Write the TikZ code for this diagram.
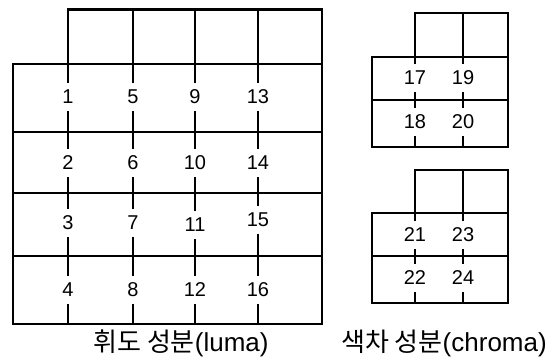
\documentclass[tikz,border=0pt]{standalone}
\usepackage{fontspec}
\setmainfont{Liberation Sans}
\newfontfamily\kr{Noto Sans CJK KR}
\begin{document}
\begin{tikzpicture}[x=1pt,y=-1pt,
  lgrid/.style={line width=2.1pt},
  cgrid/.style={line width=1.6pt},
  num/.style={minimum height=28pt, minimum width=10pt, inner sep=0pt, font=\fontsize{20}{20}\selectfont},
  caption/.style={inner sep=0pt, font=\fontsize{26}{26}\selectfont}]
\useasboundingbox (0,0) rectangle (555,358);
% ---------- luma ----------
\draw[lgrid] (68,64) |- (322,9.5) |- (13,324) |- cycle;
\foreach \y in {132,193,256} \draw[lgrid] (13,\y) -- (322,\y);
\draw[lgrid] (68,64) -- (322,64);
\foreach \c/\x in {a/68,b/133,c/195,d/258} {
  \coordinate (t\c) at (\x,9.5);
  \coordinate (b\c) at (\x,324);
}
\node[num] (l1) at (68,97) {1};
\node[num] (l2) at (68,163) {2};
\node[num] (l3) at (68,223) {3};
\node[num] (l4) at (68,290) {4};
\node[num] (l5) at (133,97) {5};
\node[num] (l6) at (133,163) {6};
\node[num] (l7) at (133,223) {7};
\node[num] (l8) at (133,290) {8};
\node[num] (l9) at (195,97) {9};
\node[num] (l10) at (195,163) {10};
\node[num] (l11) at (195,225) {11};
\node[num] (l12) at (195,290) {12};
\node[num] (l13) at (258,97) {13};
\node[num] (l14) at (258,163) {14};
\node[num] (l15) at (258,220) {15};
\node[num] (l16) at (258,290) {16};
\draw[lgrid] (ta) -- (l1) -- (l2) -- (l3) -- (l4) -- (ba);
\draw[lgrid] (tb) -- (l5) -- (l6) -- (l7) -- (l8) -- (bb);
\draw[lgrid] (tc) -- (l9) -- (l10) -- (l11) -- (l12) -- (bc);
\draw[lgrid] (td) -- (l13) -- (l14) -- (l15) -- (l16) -- (bd);
\node[caption] (lcap) at (181,343) {{\kr 휘도 성분}(luma)};
% ---------- chroma A ----------
\draw[cgrid] (415,57) |- (508,13) |- (372,147) |- cycle;
\draw[cgrid] (415,57) -- (508,57);
\draw[cgrid] (372,100) -- (508,100);
\coordinate (tA1) at (415,13); \coordinate (bA1) at (415,147);
\coordinate (tA2) at (463,13); \coordinate (bA2) at (463,147);
\node[num] (c17) at (415,78) {17};
\node[num] (c18) at (415,122) {18};
\node[num] (c19) at (463,78) {19};
\node[num] (c20) at (463,122) {20};
\draw[cgrid] (tA1) -- (c17) -- (c18) -- (bA1);
\draw[cgrid] (tA2) -- (c19) -- (c20) -- (bA2);
% ---------- chroma B ----------
\draw[cgrid] (415,213) |- (508,170) |- (372,303) |- cycle;
\draw[cgrid] (415,213) -- (508,213);
\draw[cgrid] (372,256) -- (508,256);
\coordinate (tB1) at (415,170); \coordinate (bB1) at (415,303);
\coordinate (tB2) at (463,170); \coordinate (bB2) at (463,303);
\node[num] (c21) at (415,235) {21};
\node[num] (c22) at (415,278) {22};
\node[num] (c23) at (463,235) {23};
\node[num] (c24) at (463,278) {24};
\draw[cgrid] (tB1) -- (c21) -- (c22) -- (bB1);
\draw[cgrid] (tB2) -- (c23) -- (c24) -- (bB2);
\node[caption] (ccap) at (444,343) {{\kr 색차 성분}(chroma)};
\end{tikzpicture}
\end{document}
